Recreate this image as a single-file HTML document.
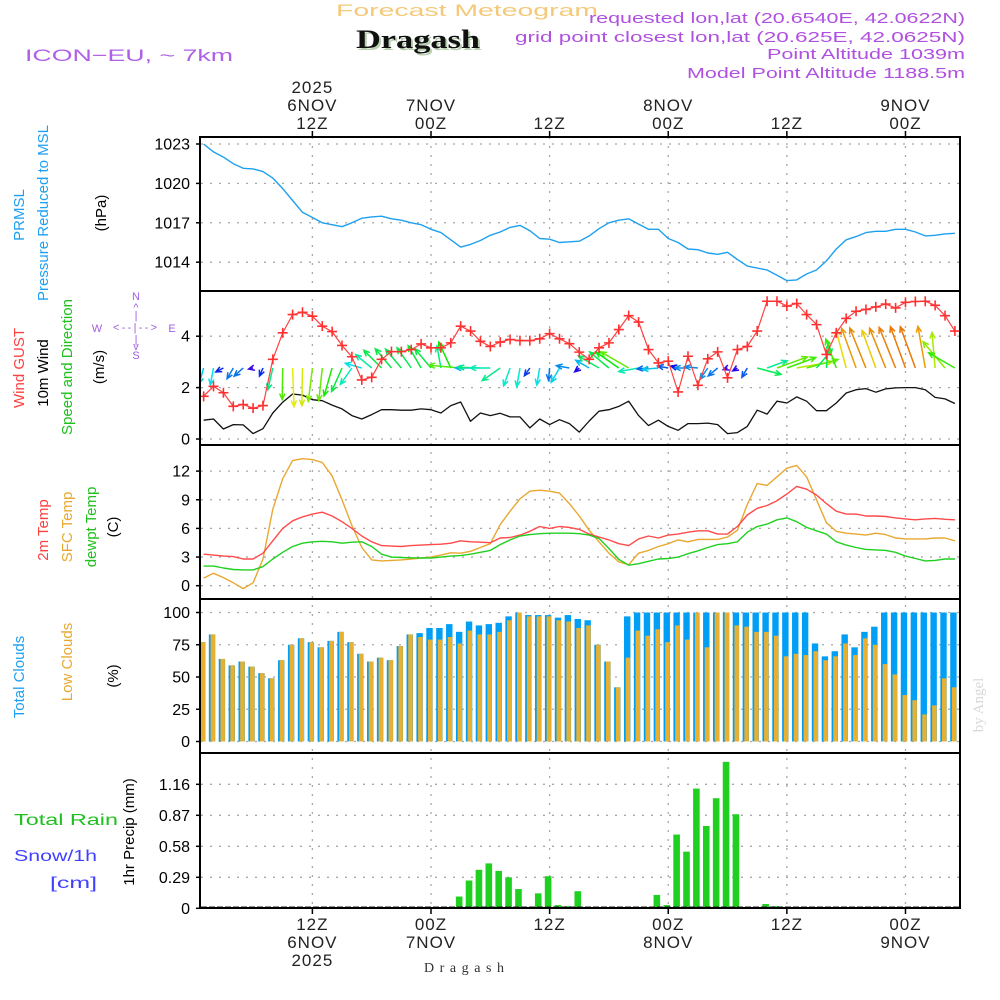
<!DOCTYPE html>
<html><head><meta charset="utf-8"><style>
html,body{margin:0;padding:0;background:#fff;}
svg{display:block;font-family:"Liberation Sans",sans-serif;}
</style></head><body>
<svg id="chart" width="1000" height="1000" viewBox="0 0 1000 1000" xmlns="http://www.w3.org/2000/svg">
<defs><clipPath id="plotclip"><rect x="201" y="130" width="758" height="800"/></clipPath></defs>
<text x="467" y="16" font-size="17" fill="#f5c97a" text-anchor="middle" textLength="262" lengthAdjust="spacingAndGlyphs">Forecast  Meteogram</text>
<text x="420" y="50" font-size="26" font-weight="bold" font-family="Liberation Serif,serif" fill="#b8d0b0" text-anchor="middle" textLength="124" lengthAdjust="spacingAndGlyphs">Dragash</text>
<text x="418" y="48" font-size="26" font-weight="bold" font-family="Liberation Serif,serif" fill="#111" text-anchor="middle" textLength="124" lengthAdjust="spacingAndGlyphs">Dragash</text>
<text x="25" y="61" font-size="17" fill="#b060e8" textLength="208" lengthAdjust="spacingAndGlyphs">ICON−EU,  ~  7km</text>
<text x="965" y="23" font-size="15" fill="#b050e0" text-anchor="end" textLength="376" lengthAdjust="spacingAndGlyphs">requested lon,lat (20.6540E, 42.0622N)</text>
<text x="965" y="42" font-size="15" fill="#b050e0" text-anchor="end" textLength="450" lengthAdjust="spacingAndGlyphs">grid point closest lon,lat (20.625E, 42.0625N)</text>
<text x="965" y="59" font-size="15" fill="#b050e0" text-anchor="end" textLength="198" lengthAdjust="spacingAndGlyphs">Point Altitude 1039m</text>
<text x="965" y="78" font-size="15" fill="#b050e0" text-anchor="end" textLength="278" lengthAdjust="spacingAndGlyphs">Model Point Altitude 1188.5m</text>

<g font-size="15">
<text transform="translate(24,215) rotate(-90)" text-anchor="middle" fill="#1ea0f0">PRMSL</text>
<text transform="translate(48,213) rotate(-90)" text-anchor="middle" fill="#1ea0f0">Pressure Reduced to MSL</text>
<text transform="translate(106,213) rotate(-90)" text-anchor="middle" fill="#000">(hPa)</text>
<text transform="translate(24,368) rotate(-90)" text-anchor="middle" fill="#ff4040">Wind GUST</text>
<text transform="translate(48,373) rotate(-90)" text-anchor="middle" fill="#000">10m Wind</text>
<text transform="translate(72,367) rotate(-90)" text-anchor="middle" fill="#20c020">Speed and Direction</text>
<text transform="translate(104,367) rotate(-90)" text-anchor="middle" fill="#000">(m/s)</text>
<text transform="translate(48,530) rotate(-90)" text-anchor="middle" fill="#ff4040">2m Temp</text>
<text transform="translate(72,527) rotate(-90)" text-anchor="middle" fill="#e8a830">SFC Temp</text>
<text transform="translate(96,527) rotate(-90)" text-anchor="middle" fill="#20c020">dewpt Temp</text>
<text transform="translate(118,527) rotate(-90)" text-anchor="middle" fill="#000">(C)</text>
<text transform="translate(24,677) rotate(-90)" text-anchor="middle" fill="#1ea0f0">Total Clouds</text>
<text transform="translate(72,662) rotate(-90)" text-anchor="middle" fill="#e8a830">Low Clouds</text>
<text transform="translate(118,676) rotate(-90)" text-anchor="middle" fill="#000">(%)</text>
<text transform="translate(134,832) rotate(-90)" text-anchor="middle" fill="#000">1hr Precip (mm)</text>
<text x="14" y="825" font-size="16" fill="#20c020" textLength="104" lengthAdjust="spacingAndGlyphs">Total   Rain</text>
<text x="14" y="861" font-size="16" fill="#4040ff" textLength="83" lengthAdjust="spacingAndGlyphs">Snow/1h</text>
<text x="50" y="888" font-size="16" fill="#4040ff" textLength="47" lengthAdjust="spacingAndGlyphs">[cm]</text>
</g>
<g font-size="11" fill="#a060e0" text-anchor="middle">
<text x="136" y="300">N</text><text x="136" y="311">^</text><text x="136" y="319">|</text>
<text x="97" y="332">W</text><text x="135" y="331" textLength="44" lengthAdjust="spacing">&lt;--|--&gt;</text><text x="172" y="332">E</text>
<text x="136" y="343">|</text><text x="136" y="350">v</text><text x="136" y="359">S</text>
</g>
<text transform="translate(983,705) rotate(-90)" font-size="15" font-family="Liberation Serif,serif" fill="#d8d8d8" text-anchor="middle">by Angel</text>
<text x="464" y="972" font-size="14" font-family="Liberation Serif,serif" fill="#333" text-anchor="middle" textLength="80" lengthAdjust="spacing">Dragash</text>
<g id="layer"></g>
</svg>
<script>
// ---- data (hour index 1..77 from 01Z 6NOV) ----
const tickHours = [12, 24, 36, 48, 60, 72];
const topTickLabels = [["2025","6NOV","12Z"], ["7NOV","00Z"], ["12Z"], ["8NOV","00Z"], ["12Z"], ["9NOV","00Z"]];
const bottomTickLabels = [["12Z","6NOV","2025"], ["00Z","7NOV"], ["12Z"], ["00Z","8NOV"], ["12Z"], ["00Z","9NOV"]];
const pressureTicks = [1014, 1017, 1020, 1023];
const windTicks = [0, 2, 4];
const tempTicks = [0, 3, 6, 9, 12];
const cloudTicks = [0, 25, 50, 75, 100];
const precipTicks = [0, 0.29, 0.58, 0.87, 1.16];
const pressure = [1023.0,1022.4,1022.0,1021.5,1021.15,1021.1,1020.9,1020.4,1019.6,1018.7,1017.8,1017.4,1017.0,1016.85,1016.7,1017.0,1017.35,1017.45,1017.5,1017.3,1017.2,1017.0,1016.85,1016.5,1016.25,1015.7,1015.15,1015.35,1015.65,1016.05,1016.3,1016.65,1016.8,1016.4,1015.8,1015.75,1015.5,1015.55,1015.6,1016.0,1016.55,1017.0,1017.2,1017.3,1016.9,1016.5,1016.5,1015.8,1015.5,1015.0,1014.95,1014.7,1014.6,1014.75,1014.2,1013.7,1013.55,1013.4,1013.0,1012.6,1012.65,1013.1,1013.4,1014.1,1015.0,1015.7,1015.95,1016.25,1016.35,1016.35,1016.5,1016.5,1016.3,1016.0,1016.05,1016.15,1016.2];
const windGust = [1.66,2.05,1.8,1.27,1.34,1.2,1.3,3.1,4.13,4.84,4.93,4.78,4.39,4.18,3.64,3.2,2.3,2.4,3.1,3.4,3.4,3.48,3.7,3.55,3.55,3.74,4.39,4.2,3.8,3.6,3.77,3.87,3.83,3.83,3.9,4.1,3.9,3.71,3.38,3.1,3.55,3.74,4.26,4.8,4.55,3.48,2.96,3.03,1.83,3.22,2.09,3.12,3.39,2.38,3.48,3.6,4.2,5.36,5.36,5.17,5.27,4.84,4.45,3.29,4.13,4.69,4.97,5.04,5.14,5.25,5.1,5.32,5.35,5.36,5.2,4.8,4.2];
const windSpeed = [0.73,0.78,0.39,0.56,0.55,0.21,0.4,1.01,1.43,1.75,1.71,1.53,1.49,1.32,1.17,0.91,0.78,0.95,1.14,1.14,1.12,1.12,1.17,1.14,1.01,1.3,1.44,0.69,1.01,0.91,1.0,0.86,0.86,0.43,0.78,0.56,0.75,0.6,0.27,0.7,1.08,1.14,1.27,1.47,0.91,0.52,0.73,0.49,0.34,0.6,0.6,0.62,0.56,0.21,0.25,0.49,1.12,0.97,1.47,1.4,1.64,1.47,1.1,1.1,1.4,1.79,1.92,1.96,1.82,1.95,1.99,2.0,2.0,1.92,1.62,1.56,1.38];
const windDir = [196,191,243,210,228,256,203,193,181,178,181,187,186,196,204,215,286,310,315,320,320,325,330,320,350,335,275,270,272,270,235,200,190,215,190,185,210,280,230,300,300,310,305,300,260,265,265,280,285,270,275,215,230,250,240,210,105,70,70,70,80,75,40,5,340,345,340,338,340,338,338,340,340,350,355,320,300];
const temp2m = [3.3,3.2,3.1,3.05,2.8,2.8,3.4,4.7,6.0,6.8,7.2,7.5,7.7,7.3,6.7,6.0,5.2,4.6,4.2,4.15,4.1,4.2,4.25,4.3,4.35,4.45,4.7,4.6,4.55,4.5,5.0,5.05,5.3,5.7,6.2,6.0,6.2,6.1,5.9,5.4,5.1,4.8,4.4,4.2,4.9,5.2,5.0,5.3,5.4,5.6,5.75,5.75,5.4,5.4,6.2,7.4,8.1,8.4,8.9,9.6,10.4,10.1,9.5,8.6,7.8,7.5,7.5,7.3,7.3,7.25,7.1,7.0,6.9,7.0,7.05,6.95,6.9];
const tempSfc = [0.8,1.3,0.85,0.3,-0.3,0.3,2.8,8.0,11.2,13.1,13.3,13.2,12.9,11.5,9.0,6.3,4.0,2.7,2.6,2.65,2.7,2.8,2.9,3.0,3.2,3.45,3.4,3.6,4.0,4.4,6.4,7.8,9.1,9.9,10.0,9.9,9.7,8.6,7.3,5.8,4.6,3.4,2.5,2.2,3.4,3.7,4.1,4.4,4.8,4.6,4.85,4.85,4.85,5.1,5.8,8.5,10.7,10.5,11.4,12.3,12.6,11.4,9.0,6.6,5.7,5.5,5.4,5.3,5.5,5.35,5.0,4.9,4.9,4.9,5.0,5.0,4.7];
const dewpoint = [2.05,2.05,1.85,1.7,1.65,1.65,2.0,2.8,3.5,4.1,4.45,4.6,4.65,4.6,4.45,4.55,4.6,4.1,3.3,3.0,2.95,2.92,2.9,2.9,3.0,3.1,3.15,3.3,3.5,3.7,4.3,4.8,5.2,5.35,5.45,5.5,5.5,5.5,5.45,5.3,4.95,3.9,2.75,2.15,2.3,2.55,2.8,2.85,3.0,3.35,3.65,4.0,4.3,4.4,4.6,5.6,6.2,6.45,6.9,7.1,6.7,6.1,5.75,5.4,4.6,4.25,4.0,3.8,3.75,3.7,3.5,3.1,2.85,2.6,2.65,2.8,2.8];
const totalClouds = [77,83,64,59,62,58,53,49,63,75,80,77,73,78,85,77,68,62,65,63,74,83,84,88,88,91,85,93,90,91,92,97,100,98,98,98,96,98,95,94,75,62,42,97,100,100,100,100,100,100,100,100,100,100,100,100,100,100,100,100,100,100,76,66,70,83,73,85,89,100,100,100,100,100,100,100,100];
const lowClouds = [77,83,64,59,62,58,53,49,63,75,80,77,73,78,85,77,68,62,65,63,74,83,81,79,79,81,76,86,83,83,85,94,100,97,97,97,94,93,88,90,75,62,42,65,86,82,87,77,90,79,100,73,100,100,90,89,85,85,82,66,68,67,70,63,66,76,67,80,75,60,52,36,32,21,28,49,42];
const precip = [0,0,0,0,0,0,0,0,0,0,0,0,0,0,0,0,0,0,0,0,0,0,0,0,0.01,0,0.11,0.26,0.36,0.42,0.35,0.29,0.18,0.01,0.14,0.30,0.03,0.02,0.16,0,0,0,0,0,0,0,0.125,0.03,0.69,0.53,1.12,0.77,1.03,1.37,0.88,0.01,0.01,0.04,0.02,0,0,0,0,0,0,0.01,0.01,0,0.01,0,0,0,0,0,0,0,0];

// ---- axis functions ----
const NS = "http://www.w3.org/2000/svg";
const layer = document.getElementById("layer");
function xt(h) { return 431 + (h - 24) * 9.885; }
function xb(i) { return xt(i) - 1.5; }
function yP(v) { return 144 + (1023 - v) * 13.13; }
function yW(v) { return 439 - v * 25.7; }
function yT(v) { return 585.7 - v * 9.55; }
function yC(v) { return 741.5 - v * 1.29; }
function yR(v) { return 908.3 - v * 106.9; }
function make(tag, attrs, parent) {
  const el = document.createElementNS(NS, tag);
  for (const k in attrs) el.setAttribute(k, attrs[k]);
  (parent || layer).appendChild(el);
  return el;
}
const panels = [[137, 291], [291, 445], [445, 599], [599, 753], [753, 908]];

// grids
const gridG = make("g", {stroke: "#a8a8a8", "stroke-width": 1.3, "stroke-dasharray": "2,7"});


tickHours.forEach(function (h) {
  const ln = make("line", {x1: xt(h), x2: xt(h), y1: 137, y2: 908}, gridG);
  
  
});
function hGrid(ticks, yf, name, labelFmt) {
  ticks.forEach(function (t) {
    const y = yf(t);
    const ln = make("line", {x1: 201, x2: 959, y1: y, y2: y}, gridG);
    
    
    const tk = make("line", {x1: 196, x2: 201, y1: y, y2: y, stroke: "#000", "stroke-width": 1.5});
    
    
    const tx = make("text", {x: 190, y: y + 5.5, "font-size": 16, "text-anchor": "end", fill: "#000"});
    tx.textContent = labelFmt ? labelFmt(t) : String(t);
    
    
  });
}
hGrid(pressureTicks, yP, "pressure");
hGrid(windTicks, yW, "wind");
hGrid(tempTicks, yT, "temp");
hGrid(cloudTicks, yC, "cloud");
hGrid(precipTicks, yR, "precip", function (t) { return t === 0 ? "0" : t.toFixed(2); });

// time tick labels
tickHours.forEach(function (h, k) {
  const x = xt(h);
  const t1 = make("line", {x1: x, x2: x, y1: 131, y2: 137, stroke: "#000", "stroke-width": 1.5});
  
  
  const t2 = make("line", {x1: x, x2: x, y1: 908, y2: 914, stroke: "#000", "stroke-width": 1.5});
  
  
  const tl = topTickLabels[k];
  tl.forEach(function (s, r) {
    const tx = make("text", {x: x, y: 129 - (tl.length - 1 - r) * 18, "font-size": 17, "text-anchor": "middle", fill: "#222", "letter-spacing": 1});
    tx.textContent = s;
    
    
  });
  bottomTickLabels[k].forEach(function (s, r) {
    const tx = make("text", {x: x, y: 930 + r * 18, "font-size": 17, "text-anchor": "middle", fill: "#222", "letter-spacing": 1});
    tx.textContent = s;
    
    
  });
});

const plot = make("g", {"clip-path": "url(#plotclip)"});



function linePath(arr, xf, yf, color, name, width) {
  const d = arr.map(function (v, k) { return (k ? "L" : "M") + xf(k + 1).toFixed(1) + "," + yf(v).toFixed(1); }).join("");
  const p = make("path", {d: d, fill: "none", stroke: color, "stroke-width": width || 1.4, "stroke-linejoin": "round"}, plot);
  
  
  return p;
}
// pressure
linePath(pressure, xt, yP, "#1ea0f0", "pressure-line");

// clouds
totalClouds.forEach(function (v, k) {
  const x = xb(k + 1);
  const r = make("rect", {x: x - 3.2, y: yC(v), width: 6.4, height: yC(0) - yC(v), fill: "#009ff5"}, plot);
  
  
  const lv = lowClouds[k];
  const r2 = make("rect", {x: x - 1.5, y: yC(lv), width: 4.5, height: yC(0) - yC(lv), fill: "#e8b030"}, plot);
  
  
});

// temperatures
linePath(tempSfc, xt, yT, "#e8a830", "sfc-temp-line");
linePath(temp2m, xt, yT, "#ff4a4a", "temp2m-line");
linePath(dewpoint, xt, yT, "#20d020", "dewpoint-line");

// precip
precip.forEach(function (v, k) {
  if (v <= 0) return;
  const x = xb(k + 1);
  const r = make("rect", {x: x - 3.3, y: yR(v), width: 6.6, height: yR(0) - yR(v), fill: "#20d020"}, plot);
  
  
});
const snowLine = make("line", {x1: 201, x2: 959, y1: 907, y2: 907, stroke: "#222", "stroke-width": 1, "stroke-dasharray": "6,2"}, plot);



// wind speed
linePath(windSpeed, xt, yW, "#111", "wind-speed-line", 1.3);

// wind arrows
function speedColor(s) {
  const hue = Math.max(25, Math.min(275, 280 - s * 125));
  return "hsl(" + hue + ",95%,47%)";
}
windDir.forEach(function (d, k) {
  const x0 = xt(k + 1), y0 = 368;
  const L = 22 * windSpeed[k];
  const a = d * Math.PI / 180;
  const x1 = x0 + L * Math.sin(a), y1 = y0 - L * Math.cos(a);
  const h = 6.5, s1 = a + Math.PI - 0.42, s2 = a + Math.PI + 0.42;
  const dd = "M" + x0.toFixed(1) + "," + y0 + "L" + x1.toFixed(1) + "," + y1.toFixed(1) +
    "M" + (x1 + h * Math.sin(s1)).toFixed(1) + "," + (y1 - h * Math.cos(s1)).toFixed(1) + "L" + x1.toFixed(1) + "," + y1.toFixed(1) +
    "L" + (x1 + h * Math.sin(s2)).toFixed(1) + "," + (y1 - h * Math.cos(s2)).toFixed(1);
  const p = make("path", {d: dd, fill: "none", stroke: speedColor(windSpeed[k]), "stroke-width": 1.5}, plot);
  
  
});

// gusts
linePath(windGust, xt, yW, "#ff4040", "gust-line", 1.2);
windGust.forEach(function (v, k) {
  const x = xt(k + 1), y = yW(v);
  const m = make("path", {d: "M" + (x - 5) + "," + y + "h10M" + x + "," + (y - 5) + "v10", stroke: "#ff3030", "stroke-width": 1.6}, plot);
  
  
});

// frames
panels.forEach(function (p, k) {
  const r = make("rect", {x: 200, y: p[0], width: 760, height: p[1] - p[0], fill: "none", stroke: "#000", "stroke-width": 2});
  
  
});
</script>
</body></html>
